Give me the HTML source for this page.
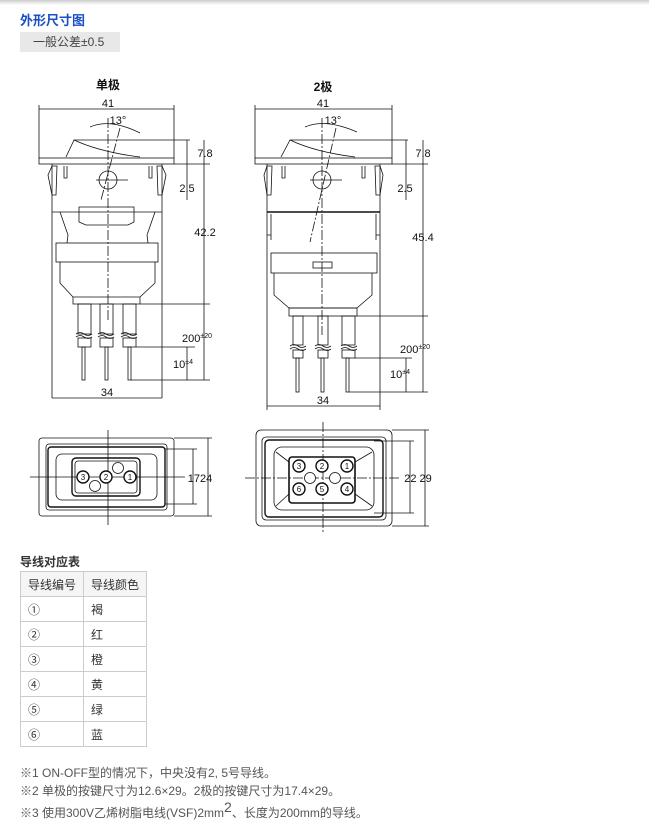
<!DOCTYPE html>
<html><head><meta charset="utf-8"><style>
body{margin:0;width:649px;height:829px;background:#fff;position:relative;overflow:hidden;font-family:"Liberation Sans","Noto Sans CJK SC",sans-serif;}
.t{position:absolute;white-space:nowrap}
table{position:absolute;left:20px;top:571px;border-collapse:collapse;font-size:12px;color:#333}
td{border:1px solid #ccc;height:25px;padding:0 0 0 7px;box-sizing:border-box}
</style></head><body>
<div style="position:absolute;left:0;top:0;width:649px;height:5px;background:linear-gradient(#ccc,#fff)"></div>
<div class="t" style="left:20px;top:10px;font-size:13px;font-weight:bold;color:#1a4fc4">外形尺寸图</div>
<div class="t" style="left:20px;top:32px;width:100px;height:20px;background:#e8e8e8;font-size:12px;color:#444;line-height:20px;text-indent:13px">一般公差±0.5</div>
<svg width="649" height="829" style="position:absolute;left:0;top:0" font-family="Liberation Sans,Noto Sans CJK SC,sans-serif" font-size="11" fill="none" stroke="#111" stroke-width="0.8">
<g fill="#111" stroke="none" text-anchor="middle">
<text x="108" y="89" font-size="12" font-weight="bold">单极</text>
<text x="323" y="91" font-size="12" font-weight="bold">2极</text>
<text x="108" y="107">41</text><text x="323" y="107">41</text>
<text x="118" y="124">13°</text><text x="333" y="124">13°</text>
<text x="205" y="157">7.8</text><text x="423" y="157">7.8</text>
<text x="187" y="192">2.5</text><text x="405" y="192">2.5</text>
<text x="205" y="236">42.2</text><text x="423" y="241">45.4</text>
<text x="197" y="342">200<tspan font-size="7" dy="-4">±20</tspan></text>
<text x="415" y="353">200<tspan font-size="7" dy="-4">±20</tspan></text>
<text x="183" y="368">10<tspan font-size="7" dy="-4">±4</tspan></text>
<text x="400" y="378">10<tspan font-size="7" dy="-4">±4</tspan></text>
<text x="107" y="396">34</text><text x="323" y="404">34</text>
<text x="200" y="482">1724</text><text x="418" y="482">22 29</text>
</g>
<!-- single pole side -->
<line x1="39" y1="109" x2="174" y2="109"/><line x1="39" y1="105" x2="39" y2="158"/><line x1="174" y1="105" x2="174" y2="158"/>
<rect x="39" y="158" width="135" height="6"/>
<path d="M66 157 L74 140 Q100 152 140 157"/>
<line x1="74" y1="140" x2="190" y2="140"/><line x1="174" y1="164" x2="210" y2="164"/>
<path d="M90 127 Q110 118 140 133"/>
<line x1="108" y1="118" x2="108" y2="320" stroke-dasharray="10 2 2 2"/>
<line x1="120" y1="128" x2="101" y2="200" stroke-dasharray="10 2 2 2"/>
<circle cx="108" cy="180" r="9"/><line x1="96" y1="180" x2="128" y2="180"/>
<path d="M52 166 L48 175 L52 195 L56 195 L57 166 Z M162 166 L166 175 L162 195 L158 195 L157 166 Z"/>
<path d="M64 166 v12 h3 v-12 M149 166 v12 h3 v-12"/>
<path d="M52 164 V398 M162 164 V398 M52 212 H162 M60 212 L68 235 L67 243 M155 212 L147 235 L148 243"/>
<path d="M79 207 H134 V222 L128 225 H86 L79 222 Z"/>
<rect x="56" y="243" width="102" height="19"/>
<path d="M60 262 V283 L73 297 V304 H140 V297 L155 283 V262 M73 297 H140"/>
<g><rect x="78" y="304" width="13" height="30"/><rect x="100" y="304" width="13" height="30"/><rect x="123" y="304" width="13" height="30"/>
<rect x="78" y="338" width="13" height="9"/><rect x="100" y="338" width="13" height="9"/><rect x="123" y="338" width="13" height="9"/>
<path d="M76 334 q4 -3 8 0 t8 0 M76 337 q4 -3 8 0 t8 0 M98 334 q4 -3 8 0 t8 0 M98 337 q4 -3 8 0 t8 0 M121 334 q4 -3 8 0 t8 0 M121 337 q4 -3 8 0 t8 0"/>
<rect x="82" y="347" width="3" height="33"/><rect x="105" y="347" width="3" height="33"/><rect x="128" y="347" width="3" height="33"/></g>
<line x1="187" y1="140" x2="187" y2="200"/><line x1="204" y1="140" x2="204" y2="380"/>
<line x1="140" y1="304" x2="210" y2="304"/><line x1="136" y1="347" x2="195" y2="347"/><line x1="131" y1="380" x2="210" y2="380"/>
<line x1="187" y1="347" x2="187" y2="380"/>
<line x1="52" y1="398" x2="162" y2="398"/>
<!-- double pole side -->
<line x1="255" y1="109" x2="392" y2="109"/><line x1="255" y1="105" x2="255" y2="158"/><line x1="392" y1="105" x2="392" y2="158"/>
<rect x="255" y="158" width="137" height="6"/>
<path d="M281 157 L290 140 Q315 152 355 157"/>
<line x1="290" y1="140" x2="408" y2="140"/><line x1="392" y1="164" x2="428" y2="164"/>
<path d="M305 127 Q325 118 357 132"/>
<line x1="322" y1="118" x2="322" y2="335" stroke-dasharray="10 2 2 2"/>
<line x1="336" y1="128" x2="310" y2="242" stroke-dasharray="10 2 2 2"/>
<circle cx="322" cy="180" r="9"/><line x1="310" y1="180" x2="342" y2="180"/>
<path d="M267 166 L264 175 L267 195 L271 195 L272 166 Z M380 166 L383 175 L380 195 L376 195 L375 166 Z"/>
<path d="M282 166 v12 h3 v-12 M362 166 v12 h3 v-12"/>
<path d="M267 164 V410 M380 164 V410" />
<path d="M267 212 H380" stroke-width="1.6"/>
<path d="M271 214 V240 M376 214 V240 M267 235 H271 M376 235 H380"/>
<rect x="271" y="253" width="106" height="20"/>
<rect x="313" y="262" width="19" height="6"/>
<path d="M274 273 V295 L289 308 H357 L372 295 V273"/>
<rect x="289" y="308" width="68" height="8"/>
<g><rect x="293" y="316" width="10" height="29"/><rect x="318" y="316" width="10" height="29"/><rect x="342" y="316" width="13" height="29"/>
<rect x="293" y="350" width="10" height="8"/><rect x="318" y="350" width="10" height="8"/><rect x="342" y="350" width="13" height="8"/>
<path d="M290 346 q4 -3 8 0 t8 0 M290 349 q4 -3 8 0 t8 0 M315 346 q4 -3 8 0 t8 0 M315 349 q4 -3 8 0 t8 0 M341 346 q4 -3 8 0 t8 0 M341 349 q4 -3 8 0 t8 0"/>
<rect x="296" y="358" width="3" height="34"/><rect x="321" y="358" width="3" height="34"/><rect x="346" y="358" width="3" height="34"/></g>
<line x1="406" y1="140" x2="406" y2="200"/><line x1="423" y1="140" x2="423" y2="392"/>
<line x1="357" y1="316" x2="428" y2="316"/><line x1="355" y1="358" x2="412" y2="358"/><line x1="349" y1="392" x2="428" y2="392"/>
<line x1="406" y1="358" x2="406" y2="392"/>
<line x1="267" y1="406" x2="380" y2="406"/>
<!-- single bottom -->
<rect x="39" y="438" width="135" height="78" rx="3"/>
<rect x="46" y="444" width="121" height="66" rx="3"/><rect x="48" y="447" width="117" height="60" rx="3" stroke-width="1.4"/>
<rect x="56" y="454" width="101" height="46" rx="6"/>
<rect x="72" y="458" width="68" height="38" rx="4" stroke-width="1.4"/><rect x="75" y="461" width="62" height="32" rx="3"/>
<line x1="30" y1="477" x2="185" y2="477"/><line x1="108" y1="430" x2="108" y2="525"/>
<line x1="165" y1="449" x2="197" y2="449"/><line x1="165" y1="504" x2="197" y2="504"/><line x1="174" y1="438" x2="212" y2="438"/><line x1="174" y1="516" x2="212" y2="516"/>
<line x1="193" y1="449" x2="193" y2="504"/><line x1="208" y1="438" x2="208" y2="516"/>
<g fill="#fff"><circle cx="118" cy="468" r="5.5"/><circle cx="95" cy="486" r="5.5"/>
<circle cx="83" cy="477" r="6" stroke-width="1.4"/><circle cx="106" cy="477" r="6" stroke-width="1.4"/><circle cx="130" cy="477" r="6" stroke-width="1.4"/></g>
<g fill="#111" stroke="none" font-size="8" text-anchor="middle"><text x="83" y="480">3</text><text x="106" y="480">2</text><text x="130" y="480">1</text></g>
<!-- double bottom -->
<rect x="256" y="430" width="136" height="96" rx="5"/>
<rect x="262" y="437" width="124" height="83" rx="4"/><rect x="265" y="440" width="118" height="77" rx="4" stroke-width="1.4"/>
<rect x="274" y="447" width="100" height="63" rx="8"/>
<path d="M276 452 L289 462 M372 452 L355 462 M276 506 L289 494 M372 506 L355 494"/>
<rect x="289" y="457" width="66" height="46" rx="3" stroke-width="1.6"/>
<line x1="245" y1="478" x2="400" y2="478" stroke-dasharray="10 2 2 2"/><line x1="323" y1="422" x2="323" y2="532" stroke-dasharray="10 2 2 2"/>
<line x1="374" y1="441" x2="414" y2="441"/><line x1="374" y1="513" x2="414" y2="513"/><line x1="392" y1="430" x2="429" y2="430"/><line x1="392" y1="526" x2="429" y2="526"/>
<line x1="410" y1="441" x2="410" y2="513"/><line x1="425" y1="430" x2="425" y2="526"/>
<g fill="#fff"><circle cx="310" cy="478" r="5.5"/><circle cx="335" cy="478" r="5.5"/>
<circle cx="299" cy="466" r="6" stroke-width="1.4"/><circle cx="322" cy="466" r="6" stroke-width="1.4"/><circle cx="347" cy="466" r="6" stroke-width="1.4"/>
<circle cx="299" cy="489" r="6" stroke-width="1.4"/><circle cx="322" cy="489" r="6" stroke-width="1.4"/><circle cx="347" cy="489" r="6" stroke-width="1.4"/></g>
<g fill="#111" stroke="none" font-size="8" text-anchor="middle"><text x="299" y="469">3</text><text x="322" y="469">2</text><text x="347" y="469">1</text><text x="299" y="492">6</text><text x="322" y="492">5</text><text x="347" y="492">4</text></g>
</svg>
<div class="t" style="left:20px;top:553px;font-size:12px;font-weight:bold;color:#333">导线对应表</div>
<table>
<tr style="background:#f5f5f5"><td style="width:63px">导线编号</td><td style="width:63px">导线颜色</td></tr>
<tr><td>①</td><td>褐</td></tr><tr><td>②</td><td>红</td></tr><tr><td>③</td><td>橙</td></tr>
<tr><td>④</td><td>黄</td></tr><tr><td>⑤</td><td>绿</td></tr><tr><td>⑥</td><td>蓝</td></tr>
</table>
<div class="t" style="left:20px;top:764px;font-size:12px;color:#555">※1 ON-OFF型的情况下，中央没有2, 5号导线。</div>
<div class="t" style="left:20px;top:782px;font-size:12px;color:#555">※2 单极的按键尺寸为12.6×29。2极的按键尺寸为17.4×29。</div>
<div class="t" style="left:20px;top:804px;font-size:12px;color:#555">※3 使用300V乙烯树脂电线(VSF)2mm<sup style="font-size:14px;line-height:0">2</sup>、长度为200mm的导线。</div>
</body></html>
